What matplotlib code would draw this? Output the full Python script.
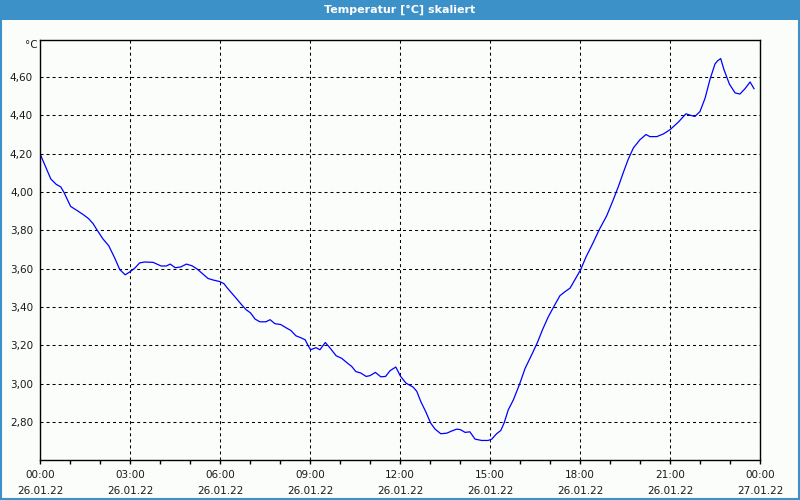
import matplotlib
matplotlib.use('Agg')
import matplotlib.pyplot as plt
from matplotlib.patches import Rectangle
from matplotlib.ticker import FixedLocator, MultipleLocator

# measured values (hours since 26.01.22 00:00, temperature in degC)
hours = [0.0, 0.36, 0.54, 0.69, 0.8, 1.02, 1.27, 1.46, 1.62, 1.77, 1.88, 2.1, 2.29,
         2.49, 2.66, 2.84, 3.02, 3.16, 3.32, 3.49, 3.77, 4.04, 4.21, 4.34, 4.51,
         4.69, 4.88, 5.07, 5.24, 5.43, 5.6, 5.77, 5.99, 6.13, 6.24, 6.39, 6.56,
         6.72, 6.87, 7.02, 7.17, 7.33, 7.53, 7.67, 7.83, 8.02, 8.2, 8.36, 8.53,
         8.69, 8.84, 8.94, 9.02, 9.2, 9.33, 9.51, 9.67, 9.87, 10.06, 10.22, 10.39,
         10.53, 10.69, 10.87, 11.0, 11.18, 11.36, 11.52, 11.67, 11.86, 12.02,
         12.2, 12.44, 12.56, 12.69, 12.87, 13.02, 13.17, 13.36, 13.56, 13.72,
         13.89, 14.02, 14.17, 14.33, 14.5, 14.72, 14.94, 15.06, 15.22, 15.36,
         15.47, 15.61, 15.78, 15.98, 16.17, 16.39, 16.58, 16.76, 16.94, 17.13,
         17.33, 17.5, 17.67, 17.83, 18.02, 18.2, 18.42, 18.64, 18.89, 19.11,
         19.28, 19.44, 19.61, 19.78, 20.0, 20.2, 20.33, 20.56, 20.78, 21.0,
         21.28, 21.53, 21.69, 21.83, 22.0, 22.17, 22.33, 22.5, 22.59, 22.69,
         22.8, 22.98, 23.17, 23.33, 23.5, 23.67, 23.8]
temps = [4.20, 4.068, 4.04, 4.027, 3.998, 3.925, 3.90, 3.88, 3.861, 3.835, 3.807,
         3.755, 3.72, 3.656, 3.595, 3.568, 3.586, 3.603, 3.63, 3.635, 3.633, 3.614,
         3.614, 3.624, 3.605, 3.609, 3.624, 3.615, 3.598, 3.572, 3.549, 3.541,
         3.533, 3.522, 3.50, 3.473, 3.442, 3.412, 3.386, 3.369, 3.337, 3.323,
         3.323, 3.334, 3.313, 3.309, 3.292, 3.278, 3.25, 3.24, 3.229, 3.198,
         3.177, 3.188, 3.177, 3.215, 3.186, 3.146, 3.132, 3.111, 3.09, 3.063,
         3.056, 3.038, 3.042, 3.059, 3.036, 3.038, 3.068, 3.087, 3.038,
         3.003, 2.982, 2.96, 2.908, 2.85, 2.795, 2.763, 2.739, 2.742, 2.753,
         2.763, 2.76, 2.746, 2.749, 2.711, 2.704, 2.704, 2.711, 2.739, 2.756,
         2.795, 2.864, 2.916, 2.995, 3.08, 3.151, 3.215, 3.285, 3.348, 3.403,
         3.459, 3.48, 3.499, 3.542, 3.594, 3.661, 3.73, 3.803, 3.876, 3.96,
         4.029, 4.10, 4.172, 4.23, 4.273, 4.30, 4.289, 4.289, 4.303, 4.325,
         4.365, 4.408, 4.40, 4.394, 4.42, 4.49, 4.586, 4.668, 4.685, 4.696,
         4.638, 4.563, 4.517, 4.511, 4.539, 4.574, 4.539]

x_ticks = [0, 3, 6, 9, 12, 15, 18, 21, 24]
x_labels = ['00:00\n26.01.22', '03:00\n26.01.22', '06:00\n26.01.22',
            '09:00\n26.01.22', '12:00\n26.01.22', '15:00\n26.01.22',
            '18:00\n26.01.22', '21:00\n26.01.22', '00:00\n27.01.22']
y_ticks = [2.8, 3.0, 3.2, 3.4, 3.6, 3.8, 4.0, 4.2, 4.4, 4.6]
y_labels = ['%.2f' % v for v in y_ticks]
y_labels = [s.replace('.', ',') for s in y_labels]

title = 'Temperatur [°C] skaliert'
bar_col = '#3c91c8'
bg_col = '#fbfdfb'
txt_col = '#1a1a1a'

fig = plt.figure(figsize=(8, 5), dpi=100, facecolor=bg_col)

# title bar and window border
fig.patches.append(Rectangle((0, 0.96), 1, 0.04, transform=fig.transFigure,
                             facecolor=bar_col, edgecolor='none', zorder=0))
fig.patches.append(Rectangle((0.001, 0.002), 0.998, 0.97, transform=fig.transFigure,
                             facecolor='none', edgecolor=bar_col, lw=1.5, zorder=0))
fig.text(0.5, 0.981, title, color='white', fontsize=8, fontweight='bold',
         ha='center', va='center')

ax = fig.add_axes([0.05, 0.08, 0.9, 0.84])
ax.set_facecolor(bg_col)
ax.plot(hours, temps, color='#0000ff', lw=0.9)

ax.set_xlim(0, 24)
ax.set_ylim(2.602, 4.793)

ax.set_xticks(x_ticks)
ax.set_xticklabels(x_labels, fontsize=7.5, linespacing=1.75, color=txt_col)
ax.xaxis.set_minor_locator(MultipleLocator(1))
ax.set_yticks(y_ticks)
ax.set_yticklabels(y_labels, fontsize=7.5, color=txt_col)

ax.tick_params(axis='x', which='both', direction='out', length=3, width=1,
               color='black', pad=4)
ax.tick_params(axis='y', length=0, pad=5)

ax.grid(True, which='major', color='black', lw=0.75, linestyle=(0, (2.9, 2.9)))
for s in ax.spines.values():
    s.set_linewidth(1.0)
    s.set_color('black')

fig.text(0.047, 0.911, '°C', fontsize=7.5, ha='right', va='center', color=txt_col)

plt.savefig('out.png', dpi=100, facecolor=bg_col)
